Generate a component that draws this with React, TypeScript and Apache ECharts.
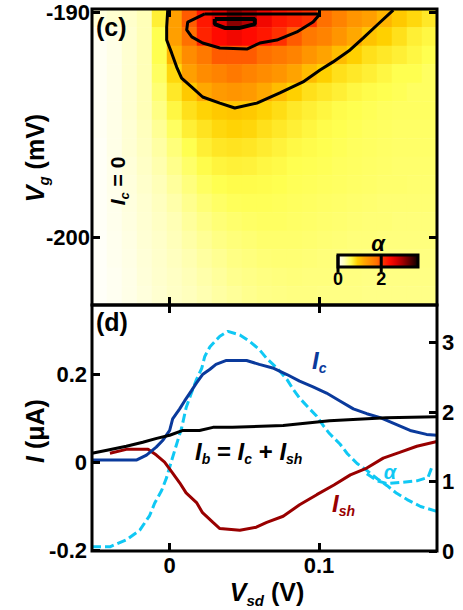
import React, { useEffect, useRef } from 'react';
import * as echarts from 'echarts';

const FONT = '"Liberation Sans", Arial, Helvetica, sans-serif';

// ---------------- panel (c): alpha(Vsd, Vg) map ----------------
const VSD_MIN = -0.052;
const VSD_MAX = 0.179;
const VG_MIN = -203;
const VG_MAX = -189.85;
const COL_VSD = [-0.047, -0.037, -0.027, -0.017, -0.007, 0.003, 0.013, 0.023, 0.033, 0.043, 0.053, 0.063, 0.073, 0.083, 0.093, 0.103, 0.113, 0.123, 0.133, 0.143, 0.153, 0.163, 0.173];
const ROW_VG = [-190.3, -191.1, -191.9, -192.7, -193.6, -194.4, -195.2, -196.0, -196.8, -197.7, -198.5, -199.3, -200.1, -200.9, -201.8, -202.6];
const ALPHA_MAP = [
  [0.15, 0.2, 0.22, 0.3, 0.7, 1.3, 1.9, 2.3, 2.6, 3.1, 2.9, 2.5, 2.3, 2.2, 2.1, 1.8, 1.6, 1.4, 1.3, 1.1, 0.95, 0.85, 0.75],
  [0.05, 0.1, 0.2, 0.3, 0.6, 1.3, 1.8, 2.2, 2.4, 2.5, 2.4, 2.3, 2.1, 1.9, 1.7, 1.6, 1.4, 1.2, 1.0, 0.9, 0.8, 0.7, 0.65],
  [0.05, 0.1, 0.2, 0.3, 0.6, 1.1, 1.5, 1.7, 1.9, 1.9, 1.9, 1.8, 1.7, 1.6, 1.4, 1.25, 1.05, 0.9, 0.8, 0.75, 0.7, 0.65, 0.6],
  [0.05, 0.1, 0.2, 0.3, 0.55, 0.85, 1.3, 1.5, 1.6, 1.7, 1.6, 1.5, 1.4, 1.25, 1.05, 0.9, 0.8, 0.75, 0.7, 0.65, 0.6, 0.6, 0.55],
  [0.05, 0.1, 0.2, 0.3, 0.5, 0.75, 0.95, 1.2, 1.35, 1.4, 1.35, 1.2, 1.05, 0.9, 0.8, 0.75, 0.7, 0.65, 0.62, 0.6, 0.58, 0.55, 0.55],
  [0.05, 0.1, 0.2, 0.3, 0.45, 0.65, 0.8, 0.88, 0.95, 0.98, 0.95, 0.88, 0.82, 0.75, 0.7, 0.66, 0.62, 0.6, 0.58, 0.56, 0.55, 0.55, 0.55],
  [0.05, 0.1, 0.18, 0.28, 0.4, 0.55, 0.7, 0.78, 0.85, 0.88, 0.86, 0.8, 0.75, 0.7, 0.66, 0.62, 0.6, 0.58, 0.56, 0.55, 0.54, 0.54, 0.54],
  [0.04, 0.1, 0.18, 0.26, 0.36, 0.48, 0.6, 0.7, 0.76, 0.78, 0.76, 0.72, 0.68, 0.64, 0.62, 0.6, 0.58, 0.56, 0.55, 0.54, 0.53, 0.53, 0.53],
  [0.04, 0.09, 0.16, 0.24, 0.33, 0.43, 0.53, 0.62, 0.67, 0.69, 0.68, 0.65, 0.63, 0.6, 0.59, 0.58, 0.56, 0.55, 0.54, 0.53, 0.52, 0.52, 0.52],
  [0.04, 0.09, 0.15, 0.22, 0.3, 0.38, 0.47, 0.55, 0.6, 0.62, 0.62, 0.61, 0.6, 0.58, 0.57, 0.56, 0.55, 0.54, 0.53, 0.52, 0.52, 0.51, 0.51],
  [0.04, 0.08, 0.14, 0.2, 0.27, 0.34, 0.42, 0.49, 0.54, 0.57, 0.58, 0.58, 0.57, 0.56, 0.55, 0.54, 0.53, 0.52, 0.51, 0.5, 0.5, 0.5, 0.5],
  [0.04, 0.08, 0.13, 0.19, 0.25, 0.31, 0.38, 0.44, 0.49, 0.52, 0.54, 0.55, 0.55, 0.54, 0.53, 0.52, 0.51, 0.5, 0.49, 0.49, 0.48, 0.48, 0.48],
  [0.03, 0.07, 0.12, 0.18, 0.23, 0.29, 0.35, 0.4, 0.45, 0.48, 0.5, 0.52, 0.52, 0.52, 0.51, 0.5, 0.49, 0.48, 0.48, 0.47, 0.47, 0.47, 0.47],
  [0.03, 0.07, 0.11, 0.17, 0.22, 0.27, 0.32, 0.37, 0.41, 0.45, 0.47, 0.49, 0.5, 0.5, 0.49, 0.48, 0.47, 0.47, 0.46, 0.46, 0.46, 0.46, 0.46],
  [0.03, 0.06, 0.1, 0.16, 0.21, 0.25, 0.3, 0.34, 0.38, 0.42, 0.44, 0.46, 0.47, 0.48, 0.47, 0.47, 0.46, 0.46, 0.45, 0.45, 0.45, 0.45, 0.45],
  [0.03, 0.06, 0.1, 0.15, 0.2, 0.24, 0.28, 0.32, 0.36, 0.39, 0.42, 0.44, 0.45, 0.46, 0.46, 0.45, 0.45, 0.45, 0.44, 0.44, 0.44, 0.44, 0.44],
];
// contour lines of alpha (levels 1, 2, 3)
const CONTOUR_1: [number, number][] = [
  [-0.0013, -189.9], [-0.002, -190.65], [-0.002, -191.23], [0.0013, -191.8], [0.0047, -192.43], [0.008, -192.92],
  [0.0148, -193.32], [0.0221, -193.76], [0.0336, -194.03], [0.0436, -194.25], [0.0584, -194.03], [0.0738, -193.58],
  [0.0893, -193.09], [0.1007, -192.56], [0.1094, -192.2], [0.1208, -191.67], [0.1295, -191.14], [0.1389, -190.56], [0.1497, -189.9],
];
const CONTOUR_2: [number, number][] = [
  [0.0235, -190.07], [0.0121, -190.43], [0.0114, -190.78], [0.0148, -191.09], [0.0221, -191.36], [0.0336, -191.58],
  [0.0517, -191.63], [0.0604, -191.36], [0.0718, -191.23], [0.0852, -190.87], [0.096, -190.43], [0.1007, -190.07], [0.0235, -190.07],
];
const CONTOUR_3: [number, number][] = [
  [0.0302, -190.29], [0.057, -190.29], [0.057, -190.52], [0.047, -190.69], [0.0369, -190.69], [0.0302, -190.52], [0.0302, -190.29],
];
const VG_TICKS = [-200, -190];
const VSD_TICKS = [0, 0.1];
const ALPHA_SCALE_MAX = 3.6;
const ALPHA_COLORS = ['#ffffff', '#ffffb8', '#ffff50', '#ffd000', '#ffa800', '#ff8c00', '#ff7000', '#ff3000', '#ff0a00', '#d80000', '#a00000', '#600000', '#200000'];
const CBAR_MAX = 3.7;
const CBAR_TICKS = [0, 2];

// ---------------- panel (d): currents and alpha ----------------
const I_MIN = -0.202;
const I_MAX = 0.357;
const I_TICKS = [-0.2, 0, 0.2];
const A_MAX = 3.54;
const A_TICKS = [0, 1, 2, 3];
const IC_CURVE: [number, number][] = [
  [-0.052, 0.005], [-0.022, 0.005], [-0.0155, 0.016], [-0.009, 0.034], [-0.0047, 0.049], [0.0, 0.072], [0.002, 0.098],
  [0.0067, 0.121], [0.01, 0.139], [0.0145, 0.162], [0.018, 0.18], [0.022, 0.199], [0.027, 0.211], [0.031, 0.222],
  [0.038, 0.231], [0.0515, 0.231], [0.06, 0.222], [0.069, 0.214], [0.0785, 0.199], [0.087, 0.184], [0.096, 0.171],
  [0.105, 0.157], [0.114, 0.139], [0.123, 0.121], [0.132, 0.11], [0.141, 0.101], [0.15, 0.088], [0.161, 0.072],
  [0.172, 0.063], [0.179, 0.061],
];
const IB_CURVE: [number, number][] = [
  [-0.052, 0.02], [-0.042, 0.027], [-0.029, 0.036], [-0.018, 0.045], [-0.0087, 0.054], [0.0, 0.061], [0.0089, 0.072],
  [0.02, 0.072], [0.029, 0.079], [0.042, 0.079], [0.076, 0.083], [0.107, 0.094], [0.145, 0.101], [0.179, 0.103],
];
const ISH_CURVE: [number, number][] = [
  [-0.04, 0.02], [-0.029, 0.029], [-0.0145, 0.029], [-0.0089, 0.016], [-0.0034, 0.0], [0.002, -0.025], [0.0067, -0.047],
  [0.011, -0.07], [0.018, -0.092], [0.022, -0.115], [0.029, -0.137], [0.0336, -0.151], [0.047, -0.155], [0.058, -0.148],
  [0.065, -0.137], [0.076, -0.123], [0.087, -0.097], [0.0985, -0.074], [0.11, -0.052], [0.121, -0.029], [0.132, -0.0135],
  [0.143, 0.009], [0.154, 0.022], [0.1655, 0.036], [0.179, 0.047],
];
const ALPHA_CURVE: [number, number][] = [
  [-0.052, 0.06], [-0.04, 0.06], [-0.029, 0.16], [-0.02, 0.3], [-0.0134, 0.51], [-0.01, 0.69], [-0.0054, 0.87],
  [-0.002, 1.06], [0.0013, 1.3], [0.0047, 1.54], [0.008, 1.77], [0.011, 2.06], [0.0145, 2.27], [0.018, 2.47],
  [0.0215, 2.63], [0.0235, 2.8], [0.027, 2.94], [0.0336, 3.09], [0.039, 3.16], [0.047, 3.11], [0.054, 3.01],
  [0.06, 2.9], [0.065, 2.77], [0.072, 2.63], [0.0785, 2.47], [0.0826, 2.33], [0.087, 2.2], [0.094, 2.04],
  [0.0985, 1.94], [0.103, 1.8], [0.107, 1.69], [0.114, 1.54], [0.119, 1.4], [0.1255, 1.26], [0.132, 1.16],
  [0.139, 1.04], [0.1456, 0.94], [0.152, 0.83], [0.159, 0.74], [0.168, 0.64], [0.179, 0.57],
];
const ALPHA_CURVE_2: [number, number][] = [
  [0.132, 1.11], [0.139, 1.01], [0.1456, 0.97], [0.156, 0.99], [0.1655, 1.01], [0.173, 1.06], [0.176, 1.23],
];

const C_BLUE = '#0a3a9c';
const C_RED = '#990000';
const C_CYAN = '#10c8f4';

function richStyles(size: number, color: string, italic: boolean) {
  const sub = Math.round(size * 0.6);
  const st = italic ? 'italic' : 'normal';
  return {
    m: { fontSize: size, fontFamily: FONT, fontWeight: 'bold', fontStyle: 'normal', fill: color, color, lineHeight: size + 6 },
    i: { fontSize: size, fontFamily: FONT, fontWeight: 'bold', fontStyle: st, fill: color, color, lineHeight: size + 6 },
    s: { fontSize: sub, fontFamily: FONT, fontWeight: 'bold', fontStyle: st, fill: color, color, lineHeight: sub, verticalAlign: 'bottom' },
  };
}

function txt(x: number, y: number, text: string, size: number, color: string, opts: any = {}) {
  return {
    type: 'text',
    x,
    y,
    rotation: opts.rotation || 0,
    z: 30,
    silent: true,
    style: {
      text,
      rich: richStyles(size, color, !!opts.italic),
      align: opts.align || 'center',
      verticalAlign: opts.verticalAlign || 'middle',
    },
  };
}

const fmt = (v: number) => (v === 0 ? '0' : String(Math.round(v * 1000) / 1000));

export default function App() {
  const ref = useRef<HTMLDivElement>(null);
  useEffect(() => {
    if (!ref.current) return;
    const chart = echarts.init(ref.current, undefined, { renderer: 'svg' });

    const heatData: [number, number, number][] = [];
    ALPHA_MAP.forEach((row, r) => row.forEach((v, c) => heatData.push([c, r, v])));

    const tick = (vals: number[]) => ({ show: true, inside: true, length: 8, customValues: vals, lineStyle: { color: '#000', width: 3 } });
    const lab = (vals: number[], margin: number) => ({
      show: true, customValues: vals, margin, formatter: fmt,
      fontSize: 22, fontWeight: 'bold', fontFamily: FONT, color: '#000',
    });
    const valAxis = (extra: any) => ({
      type: 'value', z: 8, axisLine: { show: false, onZero: false }, splitLine: { show: false }, axisLabel: { show: false }, ...extra,
    });

    // colorbar geometry
    const CB_X = 338, CB_Y = 255, CB_W = 80, CB_H = 12;
    const cbStops = ALPHA_COLORS.map((c, i) => ({ offset: (i * ALPHA_SCALE_MAX / (ALPHA_COLORS.length - 1)) / CBAR_MAX, color: c }));
    cbStops.push({ offset: 1, color: '#100000' });
    const cbGraphics: any[] = [
      {
        type: 'rect', z: 25, silent: true,
        shape: { x: CB_X, y: CB_Y, width: CB_W, height: CB_H },
        style: { fill: new echarts.graphic.LinearGradient(0, 0, 1, 0, cbStops), stroke: '#000', lineWidth: 3 },
      },
    ];
    CBAR_TICKS.forEach((t) => {
      const x = CB_X + (CB_W * t) / CBAR_MAX;
      cbGraphics.push({
        type: 'line', z: 26, silent: true,
        shape: { x1: x, y1: t === 0 ? CB_Y : CB_Y + 1, x2: x, y2: CB_Y + CB_H + 5 },
        style: { stroke: '#000', lineWidth: 3 },
      });
      cbGraphics.push(txt(x, CB_Y + CB_H + 12, `{m|${t}}`, 18, '#000'));
    });

    const option: any = {
      animation: false,
      backgroundColor: '#ffffff',
      grid: [
        { left: 92, top: 9, width: 345, height: 296, show: true, borderColor: '#000', borderWidth: 3, backgroundColor: 'transparent', z: 7 },
        { left: 92, top: 305, width: 345, height: 246, show: true, borderColor: '#000', borderWidth: 3, backgroundColor: 'transparent', z: 7 },
      ],
      visualMap: {
        show: false, type: 'continuous', seriesIndex: 0, dimension: 2,
        min: 0, max: ALPHA_SCALE_MAX, inRange: { color: ALPHA_COLORS },
      },
      xAxis: [
        { type: 'category', gridIndex: 0, data: COL_VSD.map(String), show: false },
        valAxis({ gridIndex: 0, position: 'bottom', min: VSD_MIN, max: VSD_MAX, axisTick: tick(VSD_TICKS) }),
        valAxis({ gridIndex: 0, position: 'top', min: VSD_MIN, max: VSD_MAX, axisTick: tick(VSD_TICKS) }),
        valAxis({ gridIndex: 1, position: 'bottom', min: VSD_MIN, max: VSD_MAX, axisTick: tick(VSD_TICKS), axisLabel: lab(VSD_TICKS, 3) }),
        valAxis({ gridIndex: 1, position: 'top', min: VSD_MIN, max: VSD_MAX, axisTick: tick(VSD_TICKS) }),
      ],
      yAxis: [
        { type: 'category', gridIndex: 0, data: ROW_VG.map(String), inverse: true, show: false },
        valAxis({ gridIndex: 0, position: 'left', min: VG_MIN, max: VG_MAX, axisTick: tick(VG_TICKS), axisLabel: lab(VG_TICKS, 2) }),
        valAxis({ gridIndex: 0, position: 'right', min: VG_MIN, max: VG_MAX, axisTick: tick(VG_TICKS) }),
        valAxis({ gridIndex: 1, position: 'left', min: I_MIN, max: I_MAX, axisTick: tick(I_TICKS), axisLabel: lab(I_TICKS, 5) }),
        valAxis({ gridIndex: 1, position: 'right', min: 0, max: A_MAX, axisTick: tick(A_TICKS), axisLabel: lab(A_TICKS, 5) }),
      ],
      series: [
        {
          type: 'heatmap', xAxisIndex: 0, yAxisIndex: 0, data: heatData, silent: true,
          itemStyle: { borderWidth: 0 }, emphasis: { disabled: true }, z: 2,
        },
        ...[CONTOUR_1, CONTOUR_2].map((d) => ({
          type: 'line', xAxisIndex: 1, yAxisIndex: 1, data: d, symbol: 'none', silent: true, z: 4,
          lineStyle: { color: '#000', width: 3 },
        })),
        {
          type: 'line', xAxisIndex: 1, yAxisIndex: 1, data: CONTOUR_3, symbol: 'none', silent: true, z: 4,
          lineStyle: { color: '#000', width: 4 },
        },
        {
          type: 'line', xAxisIndex: 3, yAxisIndex: 4, data: ALPHA_CURVE, symbol: 'none', silent: true, z: 3,
          lineStyle: { color: C_CYAN, width: 3, type: [9, 4] },
        },
        {
          type: 'line', xAxisIndex: 3, yAxisIndex: 4, data: ALPHA_CURVE_2, symbol: 'none', silent: true, z: 3,
          lineStyle: { color: C_CYAN, width: 3, type: [9, 4] },
        },
        {
          type: 'line', xAxisIndex: 3, yAxisIndex: 3, data: ISH_CURVE, symbol: 'none', silent: true, z: 4,
          lineStyle: { color: C_RED, width: 3 },
        },
        {
          type: 'line', xAxisIndex: 3, yAxisIndex: 3, data: IC_CURVE, symbol: 'none', silent: true, z: 4,
          lineStyle: { color: C_BLUE, width: 3 },
        },
        {
          type: 'line', xAxisIndex: 3, yAxisIndex: 3, data: IB_CURVE, symbol: 'none', silent: true, z: 5,
          lineStyle: { color: '#000', width: 3 },
        },
      ],
      graphic: [
        ...cbGraphics,
        txt(378, 243, '{i|α}', 22, '#000', { italic: true }),
        txt(96, 27, '{m|(c)}', 25, '#000', { align: 'left' }),
        txt(96, 322, '{m|(d)}', 25, '#000', { align: 'left' }),
        txt(35, 158, '{i|V}{s|g}{m| (mV)}', 25, '#000', { rotation: Math.PI / 2, italic: true }),
        txt(35, 431, '{i|I}{m| (μA)}', 25, '#000', { rotation: Math.PI / 2, italic: true }),
        txt(267, 592, '{i|V}{s|sd}{m| (V)}', 25, '#000', { italic: true }),
        txt(117, 181, '{i|I}{s|c}{m| = 0}', 21, '#000', { rotation: Math.PI / 2, italic: true }),
        txt(312, 360, '{i|I}{s|c}', 24, C_BLUE, { align: 'left', italic: true }),
        txt(332, 503, '{i|I}{s|sh}', 24, C_RED, { align: 'left', italic: true }),
        txt(195, 451, '{i|I}{s|b}{m| = }{i|I}{s|c}{m| + }{i|I}{s|sh}', 24, '#000', { align: 'left', italic: true }),
        txt(390, 472, '{i|α}', 20, C_CYAN, { italic: true }),
      ],
    };
    chart.setOption(option);
    return () => chart.dispose();
  }, []);
  return <div ref={ref} style={{ position: 'absolute', left: 0, top: 0, width: 463, height: 610 }} />;
}
